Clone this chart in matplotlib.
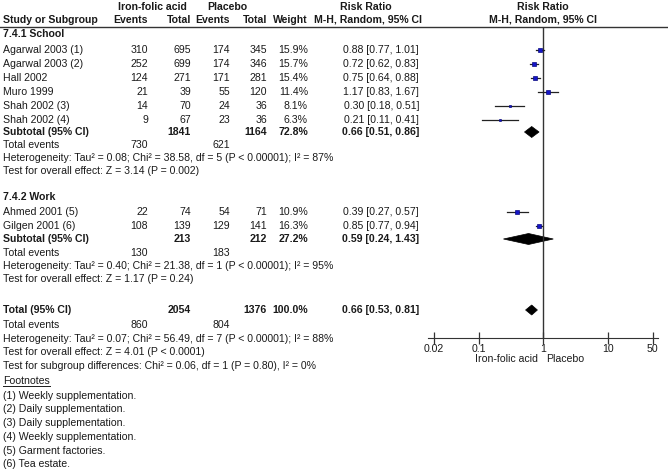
import numpy as np
import matplotlib.pyplot as plt
from matplotlib.patches import Polygon

plt.rcParams['font.family'] = ['Liberation Sans', 'DejaVu Sans']

# ---- data ----
study_names = ["Agarwal 2003 (1)", "Agarwal 2003 (2)", "Hall 2002", "Muro 1999",
               "Shah 2002 (3)", "Shah 2002 (4)", "Ahmed 2001 (5)", "Gilgen 2001 (6)"]
study_group = [0, 0, 0, 0, 0, 0, 1, 1]
iron_events = [310, 252, 124, 21, 14, 9, 22, 108]
iron_total = [695, 699, 271, 39, 70, 67, 74, 139]
plac_events = [174, 174, 171, 55, 24, 23, 54, 129]
plac_total = [345, 346, 281, 120, 36, 36, 71, 141]
weights = [15.9, 15.7, 15.4, 11.4, 8.1, 6.3, 10.9, 16.3]
rr = [0.88, 0.72, 0.75, 1.17, 0.30, 0.21, 0.39, 0.85]
rr_lo = [0.77, 0.62, 0.64, 0.83, 0.18, 0.11, 0.27, 0.77]
rr_hi = [1.01, 0.83, 0.88, 1.67, 0.51, 0.41, 0.57, 0.94]

group_names = ["7.4.1 School", "7.4.2 Work"]
group_iron_total = [1841, 213]
group_plac_total = [1164, 212]
group_weight = [72.8, 27.2]
group_iron_events = [730, 130]
group_plac_events = [621, 183]
group_rr = [0.66, 0.59]
group_lo = [0.51, 0.24]
group_hi = [0.86, 1.43]
group_het = ["Heterogeneity: Tau\u00b2 = 0.08; Chi\u00b2 = 38.58, df = 5 (P < 0.00001); I\u00b2 = 87%",
             "Heterogeneity: Tau\u00b2 = 0.40; Chi\u00b2 = 21.38, df = 1 (P < 0.00001); I\u00b2 = 95%"]
group_test = ["Test for overall effect: Z = 3.14 (P = 0.002)",
              "Test for overall effect: Z = 1.17 (P = 0.24)"]

total_iron_total = 2054
total_plac_total = 1376
total_weight = 100.0
total_iron_events = 860
total_plac_events = 804
total_rr, total_lo, total_hi = 0.66, 0.53, 0.81
total_het = "Heterogeneity: Tau\u00b2 = 0.07; Chi\u00b2 = 56.49, df = 7 (P < 0.00001); I\u00b2 = 88%"
total_test = "Test for overall effect: Z = 4.01 (P < 0.0001)"
subgroup_test = "Test for subgroup differences: Chi\u00b2 = 0.06, df = 1 (P = 0.80), I\u00b2 = 0%"

footnotes = ["(1) Weekly supplementation.", "(2) Daily supplementation.",
             "(3) Daily supplementation.", "(4) Weekly supplementation.",
             "(5) Garment factories.", "(6) Tea estate."]

axis_ticks = [0.02, 0.1, 1, 10, 50]
axis_ticklabels = ["0.02", "0.1", "1", "10", "50"]

# ---- layout (pixel rows / columns) ----
W, H = 668, 472
FS = 7.6
TXT = '#1a1a1a'
group_rows = [
    dict(head=34, studies=[50, 64, 78, 92, 106, 120], sub=132, ev=145, het=158, test=171),
    dict(head=197, studies=[212, 226], sub=239, ev=253, het=266, test=279),
]
total_row, total_ev_row, total_het_row, total_test_row, subgroup_row = 310, 325, 339, 352, 366
foot_head_row = 381
foot_rows = [396, 409.5, 423, 437, 450.5, 464]
col_name, col_ev1, col_tot1, col_ev2, col_tot2, col_w, col_rr = 3, 148, 191, 230, 267, 308, 419
ax_left_px, ax_right_px = 428, 658
ax_top_px, ax_bot_px = 27, 338
xlim = (0.0161, 60.8)

fig = plt.figure(figsize=(W / 100, H / 100), dpi=100)
ax = fig.add_axes([0, 0, 1, 1])
ax.set_xlim(0, W)
ax.set_ylim(H, 0)
ax.axis('off')

def txt(x, y, s, ha='left', bold=False, **kw):
    return ax.text(x, y, s, ha=ha, va='center', fontsize=FS, color=TXT,
                   fontweight='bold' if bold else 'normal', **kw)

# headers
txt(152, 7, "Iron-folic acid", ha='center', bold=True)
txt(227, 7, "Placebo", ha='center', bold=True)
txt(366, 7, "Risk Ratio", ha='center', bold=True)
txt(543, 7, "Risk Ratio", ha='center', bold=True)
txt(col_name, 20, "Study or Subgroup", bold=True)
txt(col_ev1, 20, "Events", ha='right', bold=True)
txt(col_tot1, 20, "Total", ha='right', bold=True)
txt(col_ev2, 20, "Events", ha='right', bold=True)
txt(col_tot2, 20, "Total", ha='right', bold=True)
txt(col_w, 20, "Weight", ha='right', bold=True)
txt(368, 20, "M-H, Random, 95% CI", ha='center', bold=True)
txt(543, 20, "M-H, Random, 95% CI", ha='center', bold=True)
ax.plot([0, W], [ax_top_px, ax_top_px], color='#333333', lw=1)

# forest axes
fax = fig.add_axes([ax_left_px / W, 1 - ax_bot_px / H,
                    (ax_right_px - ax_left_px) / W, (ax_bot_px - ax_top_px) / H])
fax.set_xscale('log')
fax.set_xlim(*xlim)
fax.set_ylim(ax_bot_px, ax_top_px)
fax.patch.set_alpha(0)
for s in ['top', 'left', 'right']:
    fax.spines[s].set_visible(False)
fax.spines['bottom'].set_color('#333333')
fax.set_yticks([])
fax.set_xticks(axis_ticks)
fax.set_xticklabels(axis_ticklabels)
fax.minorticks_off()
fax.tick_params(axis='x', direction='inout', length=8, width=0.9, color='#333333',
                labelsize=FS, labelcolor=TXT, pad=0)
fax.axvline(1, color='#333333', lw=1)

def diamond(y, c, lo, hi, h=5.5):
    fax.add_patch(Polygon([(lo, y), (c, y - h), (hi, y), (c, y + h)], closed=True,
                          facecolor='black', edgecolor='black', lw=0.5))

def fmt_ci(c, lo, hi):
    return f"{c:.2f} [{lo:.2f}, {hi:.2f}]"

for g in range(2):
    L = group_rows[g]
    txt(col_name, L['head'], group_names[g], bold=True)
    idx = [i for i in range(len(study_names)) if study_group[i] == g]
    for y, i in zip(L['studies'], idx):
        txt(col_name, y, study_names[i])
        txt(col_ev1, y, str(iron_events[i]), ha='right')
        txt(col_tot1, y, str(iron_total[i]), ha='right')
        txt(col_ev2, y, str(plac_events[i]), ha='right')
        txt(col_tot2, y, str(plac_total[i]), ha='right')
        txt(col_w, y, f"{weights[i]:.1f}%", ha='right')
        txt(col_rr, y, fmt_ci(rr[i], rr_lo[i], rr_hi[i]), ha='right')
        fax.plot([rr_lo[i], rr_hi[i]], [y, y], color='#222222', lw=0.9)
        fax.plot(rr[i], y, marker='s', ms=weights[i] * 0.22, color='#1515c8',
                 mec='#0a0a80', mew=0.5)
    y = L['sub']
    txt(col_name, y, "Subtotal (95% CI)", bold=True)
    txt(col_tot1, y, str(group_iron_total[g]), ha='right', bold=True)
    txt(col_tot2, y, str(group_plac_total[g]), ha='right', bold=True)
    txt(col_w, y, f"{group_weight[g]:.1f}%", ha='right', bold=True)
    txt(col_rr, y, fmt_ci(group_rr[g], group_lo[g], group_hi[g]), ha='right', bold=True)
    diamond(y, group_rr[g], group_lo[g], group_hi[g])
    txt(col_name, L['ev'], "Total events")
    txt(col_ev1, L['ev'], str(group_iron_events[g]), ha='right')
    txt(col_ev2, L['ev'], str(group_plac_events[g]), ha='right')
    txt(col_name, L['het'], group_het[g])
    txt(col_name, L['test'], group_test[g])

# overall
txt(col_name, total_row, "Total (95% CI)", bold=True)
txt(col_tot1, total_row, str(total_iron_total), ha='right', bold=True)
txt(col_tot2, total_row, str(total_plac_total), ha='right', bold=True)
txt(col_w, total_row, f"{total_weight:.1f}%", ha='right', bold=True)
txt(col_rr, total_row, fmt_ci(total_rr, total_lo, total_hi), ha='right', bold=True)
diamond(total_row, total_rr, total_lo, total_hi, h=5)
txt(col_name, total_ev_row, "Total events")
txt(col_ev1, total_ev_row, str(total_iron_events), ha='right')
txt(col_ev2, total_ev_row, str(total_plac_events), ha='right')
txt(col_name, total_het_row, total_het)
txt(col_name, total_test_row, total_test)
txt(col_name, subgroup_row, subgroup_test)

# axis side labels
txt(538, 359, "Iron-folic acid", ha='right')
txt(546, 359, "Placebo", ha='left')

# footnotes
fh = txt(col_name, foot_head_row, "Footnotes")
for y, s in zip(foot_rows, footnotes):
    txt(col_name, y, s)
fig.canvas.draw()
bb = fh.get_window_extent().transformed(ax.transData.inverted())
ax.plot([bb.x0, bb.x1], [foot_head_row + 5, foot_head_row + 5], color=TXT, lw=0.7)

fig.savefig("out.png", dpi=100)
